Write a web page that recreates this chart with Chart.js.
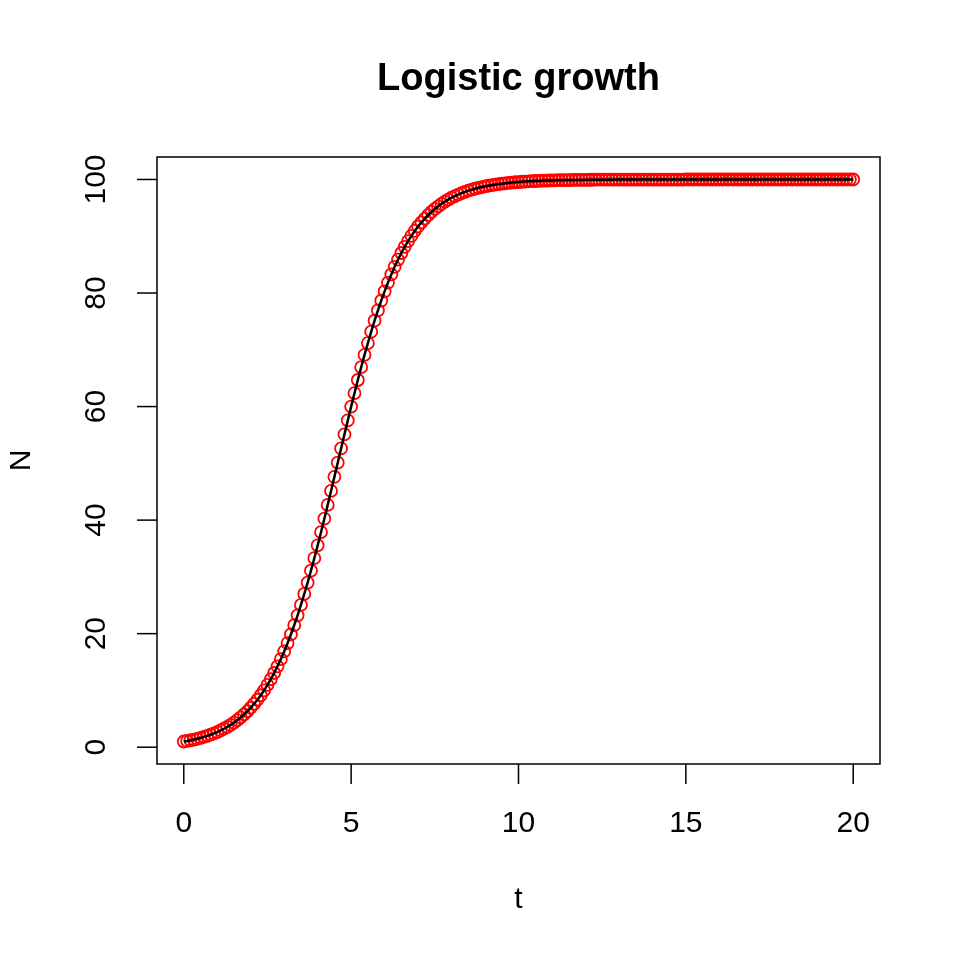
<!DOCTYPE html>
<html>
<head>
<meta charset="utf-8">
<script src="https://cdn.jsdelivr.net/npm/chart.js@4/dist/chart.umd.min.js"></script>
<style>
  body { margin: 0; background: #fff; }
  canvas { display: block; }
</style>
</head>
<body>
<canvas id="logisticChart" width="960" height="960"></canvas>
<script>
// time steps (t)
const tValues = [
  0.0, 0.1, 0.2, 0.3, 0.4, 0.5, 0.6, 0.7, 0.8, 0.9,
  1.0, 1.1, 1.2, 1.3, 1.4, 1.5, 1.6, 1.7, 1.8, 1.9,
  2.0, 2.1, 2.2, 2.3, 2.4, 2.5, 2.6, 2.7, 2.8, 2.9,
  3.0, 3.1, 3.2, 3.3, 3.4, 3.5, 3.6, 3.7, 3.8, 3.9,
  4.0, 4.1, 4.2, 4.3, 4.4, 4.5, 4.6, 4.7, 4.8, 4.9,
  5.0, 5.1, 5.2, 5.3, 5.4, 5.5, 5.6, 5.7, 5.8, 5.9,
  6.0, 6.1, 6.2, 6.3, 6.4, 6.5, 6.6, 6.7, 6.8, 6.9,
  7.0, 7.1, 7.2, 7.3, 7.4, 7.5, 7.6, 7.7, 7.8, 7.9,
  8.0, 8.1, 8.2, 8.3, 8.4, 8.5, 8.6, 8.7, 8.8, 8.9,
  9.0, 9.1, 9.2, 9.3, 9.4, 9.5, 9.6, 9.7, 9.8, 9.9,
  10.0, 10.1, 10.2, 10.3, 10.4, 10.5, 10.6, 10.7, 10.8, 10.9,
  11.0, 11.1, 11.2, 11.3, 11.4, 11.5, 11.6, 11.7, 11.8, 11.9,
  12.0, 12.1, 12.2, 12.3, 12.4, 12.5, 12.6, 12.7, 12.8, 12.9,
  13.0, 13.1, 13.2, 13.3, 13.4, 13.5, 13.6, 13.7, 13.8, 13.9,
  14.0, 14.1, 14.2, 14.3, 14.4, 14.5, 14.6, 14.7, 14.8, 14.9,
  15.0, 15.1, 15.2, 15.3, 15.4, 15.5, 15.6, 15.7, 15.8, 15.9,
  16.0, 16.1, 16.2, 16.3, 16.4, 16.5, 16.6, 16.7, 16.8, 16.9,
  17.0, 17.1, 17.2, 17.3, 17.4, 17.5, 17.6, 17.7, 17.8, 17.9,
  18.0, 18.1, 18.2, 18.3, 18.4, 18.5, 18.6, 18.7, 18.8, 18.9,
  19.0, 19.1, 19.2, 19.3, 19.4, 19.5, 19.6, 19.7, 19.8, 19.9,
  20.0
];

// population size (N)
const nValues = [
  1.00, 1.10, 1.22, 1.35, 1.48, 1.64, 1.81, 1.99, 2.20, 2.42,
  2.67, 2.95, 3.25, 3.57, 3.94, 4.33, 4.77, 5.24, 5.76, 6.33,
  6.95, 7.62, 8.36, 9.15, 10.02, 10.96, 11.97, 13.07, 14.25, 15.51,
  16.87, 18.32, 19.86, 21.50, 23.23, 25.06, 26.99, 29.00, 31.10, 33.29,
  35.55, 37.87, 40.25, 42.68, 45.14, 47.62, 50.12, 52.62, 55.10, 57.56,
  59.99, 62.36, 64.68, 66.93, 69.10, 71.19, 73.20, 75.12, 76.94, 78.67,
  80.29, 81.83, 83.27, 84.62, 85.87, 87.05, 88.13, 89.14, 90.07, 90.93,
  91.72, 92.45, 93.11, 93.73, 94.30, 94.81, 95.28, 95.71, 96.10, 96.46,
  96.79, 97.08, 97.35, 97.59, 97.82, 98.03, 98.21, 98.37, 98.53, 98.67,
  98.80, 98.90, 99.01, 99.10, 99.19, 99.26, 99.33, 99.40, 99.45, 99.51,
  99.55, 99.60, 99.63, 99.67, 99.70, 99.73, 99.75, 99.78, 99.80, 99.82,
  99.84, 99.85, 99.87, 99.88, 99.89, 99.90, 99.91, 99.92, 99.93, 99.93,
  99.94, 99.95, 99.95, 99.96, 99.96, 99.96, 99.97, 99.97, 99.97, 99.98,
  99.98, 99.98, 99.98, 99.98, 99.99, 99.99, 99.99, 99.99, 99.99, 99.99,
  99.99, 99.99, 99.99, 99.99, 99.99, 99.99, 99.99, 99.99, 99.99, 99.99,
  100, 100, 100, 100, 100, 100, 100, 100, 100, 100,
  100, 100, 100, 100, 100, 100, 100, 100, 100, 100,
  100, 100, 100, 100, 100, 100, 100, 100, 100, 100,
  100, 100, 100, 100, 100, 100, 100, 100, 100, 100,
  100, 100, 100, 100, 100, 100, 100, 100, 100, 100,
  100
];

// tick labels
const xTicks = [0, 5, 10, 15, 20];
const yTicks = [0, 20, 40, 60, 80, 100];

const chartTitle = 'Logistic growth';
const xTitle = 't';
const yTitle = 'N';

const points = tValues.map((t, i) => ({ x: t, y: nValues[i] }));

const FONT = '"Liberation Sans", Arial, Helvetica, sans-serif';

// R-style frame, ticks and labels
const rStylePlugin = {
  id: 'rStyle',
  afterDraw(chart) {
    const ctx = chart.ctx;
    const area = chart.chartArea;
    const xs = chart.scales.x;
    const ys = chart.scales.y;
    ctx.save();
    ctx.strokeStyle = '#000';
    ctx.fillStyle = '#000';
    ctx.lineWidth = 1.5;

    // box
    ctx.strokeRect(area.left, area.top, area.right - area.left, area.bottom - area.top);

    // x axis ticks + labels
    ctx.font = '30px ' + FONT;
    ctx.textAlign = 'center';
    ctx.textBaseline = 'middle';
    xTicks.forEach(v => {
      const px = xs.getPixelForValue(v);
      ctx.beginPath();
      ctx.moveTo(px, area.bottom);
      ctx.lineTo(px, area.bottom + 20);
      ctx.stroke();
      ctx.fillText(String(v), px, 824);
    });

    // y axis ticks + rotated labels
    yTicks.forEach(v => {
      const py = ys.getPixelForValue(v);
      ctx.beginPath();
      ctx.moveTo(area.left, py);
      ctx.lineTo(area.left - 20, py);
      ctx.stroke();
      ctx.save();
      ctx.translate(97, py);
      ctx.rotate(-Math.PI / 2);
      ctx.fillText(String(v), 0, 0);
      ctx.restore();
    });

    // axis titles
    ctx.fillText(xTitle, (area.left + area.right) / 2, 900);
    ctx.save();
    ctx.translate(22, (area.top + area.bottom) / 2);
    ctx.rotate(-Math.PI / 2);
    ctx.fillText(yTitle, 0, 0);
    ctx.restore();

    // main title
    ctx.font = 'bold 38px ' + FONT;
    ctx.fillText(chartTitle, (area.left + area.right) / 2, 80);
    ctx.restore();
  }
};

const ctx = document.getElementById('logisticChart').getContext('2d');
new Chart(ctx, {
  type: 'scatter',
  data: {
    datasets: [
      {
        // connecting line, on top of the circles
        type: 'line',
        data: points,
        order: 0,
        borderColor: '#000',
        borderWidth: 2.5,
        pointRadius: 0,
        fill: false,
        tension: 0
      },
      {
        data: points,
        order: 1,
        showLine: false,
        pointStyle: 'circle',
        pointRadius: 6,
        pointBorderWidth: 1.8,
        pointBorderColor: '#ff0000',
        pointBackgroundColor: 'rgba(0,0,0,0)'
      }
    ]
  },
  options: {
    responsive: false,
    animation: false,
    devicePixelRatio: 1,
    layout: { padding: { left: 157, right: 80, top: 157, bottom: 196 } },
    plugins: {
      legend: { display: false },
      title: { display: false },
      tooltip: { enabled: false }
    },
    scales: {
      x: {
        type: 'linear',
        min: -0.8,
        max: 20.8,
        ticks: { display: false },
        grid: { display: false },
        border: { display: false },
        afterFit: s => { s.height = 0; }
      },
      y: {
        type: 'linear',
        min: -2.96,
        max: 103.96,
        ticks: { display: false },
        grid: { display: false },
        border: { display: false },
        afterFit: s => { s.width = 0; }
      }
    }
  },
  plugins: [rStylePlugin]
});
</script>
</body>
</html>
